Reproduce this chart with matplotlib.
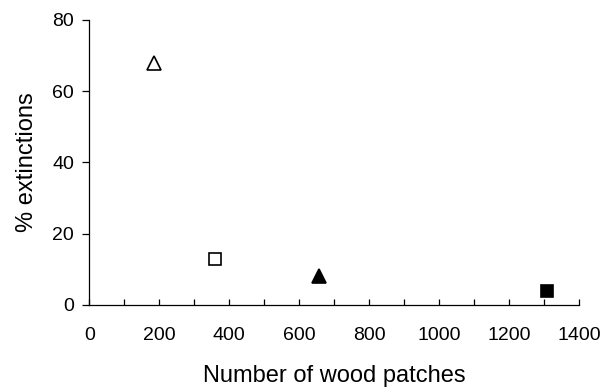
import matplotlib.pyplot as plt
from matplotlib.ticker import MultipleLocator

plt.rcParams['font.family'] = ['Liberation Sans', 'DejaVu Sans']

# wood patch counts and extinction rates per landscape
patches = [186, 360, 657, 1309]
extinctions = [68, 13, 8, 4]
markers = ['^', 's', '^', 's']
sizes = [10, 9, 10, 9]
faces = ['white', 'white', 'black', 'black']

fig = plt.figure(figsize=(6.03, 3.92), dpi=100)
ax = fig.add_axes([0.148, 0.222, 0.812, 0.727])

for x, y, m, ms, fc in zip(patches, extinctions, markers, sizes, faces):
    ax.plot(x, y, marker=m, markersize=ms, markerfacecolor=fc,
            markeredgecolor='black', markeredgewidth=1.2, linestyle='none')

ax.set_xlim(0, 1400)
ax.set_ylim(0, 80)
ax.xaxis.set_major_locator(MultipleLocator(200))
ax.xaxis.set_minor_locator(MultipleLocator(100))
ax.yaxis.set_major_locator(MultipleLocator(20))

ax.spines['top'].set_visible(False)
ax.spines['right'].set_visible(False)
for s in ('left', 'bottom'):
    ax.spines[s].set_linewidth(0.9)

ax.tick_params(axis='x', which='both', direction='in', length=4, width=0.9,
               labelsize=14, pad=16)
ax.tick_params(axis='y', direction='out', length=5, width=0.9, labelsize=14,
               pad=6)

ax.set_xlabel('Number of wood patches', fontsize=17, labelpad=15)
ax.set_ylabel('% extinctions', fontsize=17, labelpad=10)

fig.savefig('out.png', dpi=100)
